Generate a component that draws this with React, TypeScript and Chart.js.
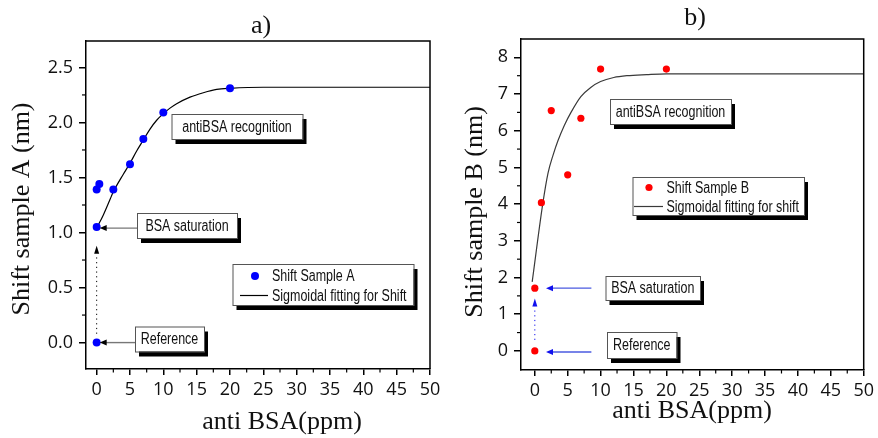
import React, { useEffect, useRef } from 'react';
import { Chart, registerables } from 'chart.js';

Chart.register(...registerables);

// ---------- data ----------
const X_TICKS = [0, 5, 10, 15, 20, 25, 30, 35, 40, 45, 50];
const X_MINOR = [2.5, 7.5, 12.5, 17.5, 22.5, 27.5, 32.5, 37.5, 42.5, 47.5];

const Y_TICKS_A = [0, 0.5, 1.0, 1.5, 2.0, 2.5];
const Y_MINOR_A = [0.25, 0.75, 1.25, 1.75, 2.25];
const Y_TICKS_B = [0, 1, 2, 3, 4, 5, 6, 7, 8];
const Y_MINOR_B = [0.5, 1.5, 2.5, 3.5, 4.5, 5.5, 6.5, 7.5];

// Sample A measured shifts
const X_A = [0, 0, 0, 0.4, 2.5, 5, 7, 10, 20];
const Y_A = [0, 1.05, 1.39, 1.44, 1.39, 1.62, 1.85, 2.09, 2.31];
// Sigmoidal fit A
const FIT_A_X = [0, 1, 2, 2.5, 4, 5, 6, 7, 8, 9, 10, 11, 12, 14, 16, 18, 20, 25, 50];
const FIT_A_Y = [1.04, 1.16, 1.3, 1.37, 1.53, 1.63, 1.74, 1.84, 1.94, 2.02, 2.08, 2.13, 2.17, 2.23, 2.27, 2.3, 2.31, 2.32, 2.32];

// Sample B measured shifts
const X_B = [0, 0, 1, 2.5, 5, 7, 10, 20];
const Y_B = [0, 1.71, 4.04, 6.55, 4.8, 6.34, 7.68, 7.68];
// Sigmoidal fit B
const FIT_B_X = [-0.4, 1.2, 2.0, 2.8, 3.5, 4.5, 5.5, 7, 8.5, 10, 12, 14, 17, 20, 30, 50];
const FIT_B_Y = [1.88, 4.0, 4.84, 5.35, 5.72, 6.15, 6.5, 6.93, 7.18, 7.34, 7.45, 7.5, 7.53, 7.55, 7.55, 7.55];

const LABELS_A = {
  title: 'a)',
  yTitle: 'Shift sample A (nm)',
  xTitle: 'anti BSA(ppm)',
  scatter: 'Shift Sample A',
  fit: 'Sigmoidal fitting for Shift',
  recog: 'antiBSA recognition',
  sat: 'BSA saturation',
  ref: 'Reference',
};
const LABELS_B = {
  title: 'b)',
  yTitle: 'Shift sample B (nm)',
  xTitle: 'anti BSA(ppm)',
  scatter: 'Shift Sample B',
  fit: 'Sigmoidal fitting for shift',
  recog: 'antiBSA recognition',
  sat: 'BSA saturation',
  ref: 'Reference',
};

// ---------- rendering ----------
const SERIF = "'Liberation Serif', 'Times New Roman', serif";
const TICKF = "'Open Sans', 'DejaVu Sans', sans-serif";
const SANS = "'Liberation Sans', Arial, sans-serif";
const NARROW_SCALE = 0.78;

type Box = { x: number; y: number; w: number; h: number };

type Spec = {
  left: number;
  width: number;
  xs: number[];
  ys: number[];
  fx: number[];
  fy: number[];
  yTicks: number[];
  yMinor: number[];
  yDec: number;
  xMin: number;
  xMax: number;
  yMin: number;
  yMax: number;
  padTop: number;
  padRight: number;
  yAxisW: number;
  xAxisH: number;
  color: string;
  radius: number;
  lineColor: string;
  labels: typeof LABELS_A;
  titlePos: [number, number];
  yTitlePos: [number, number];
  xTitlePos: [number, number];
  boxes: { recog: Box; sat: Box; ref: Box; legend: Box };
  legendRows: { dotX: number; dotY: number; textX: number; lineX0: number; lineX1: number; lineY: number };
  arrowColor: string;
  arrowLineColor: string;
  arrows: { x1: number; x2: number; y: number }[];
  vArrow: { x: number; y0: number; y1: number; tip: number };
};

function narrowText(ctx: CanvasRenderingContext2D, text: string, x: number, y: number, align: CanvasTextAlign) {
  ctx.save();
  ctx.translate(x, y);
  ctx.scale(NARROW_SCALE, 1);
  ctx.fillStyle = '#111';
  ctx.font = `16px ${SANS}`;
  ctx.textAlign = align;
  ctx.textBaseline = 'middle';
  ctx.fillText(text, 0, 0);
  ctx.restore();
}

function drawBox(ctx: CanvasRenderingContext2D, b: Box, text?: string) {
  ctx.save();
  ctx.fillStyle = '#000';
  ctx.fillRect(b.x + 4, b.y + 5, b.w, b.h);
  ctx.fillStyle = '#fff';
  ctx.fillRect(b.x, b.y, b.w, b.h);
  ctx.strokeStyle = '#555';
  ctx.lineWidth = 1;
  ctx.strokeRect(b.x + 0.5, b.y + 0.5, b.w, b.h);
  ctx.restore();
  if (text) narrowText(ctx, text, b.x + b.w / 2, b.y + b.h / 2 + 1, 'center');
}

function makePlugin(spec: Spec) {
  return {
    id: 'decor',
    afterDraw(chart: any) {
      const { ctx, chartArea: ca } = chart;
      const xs = chart.scales.x;
      const ys = chart.scales.y;
      ctx.save();
      // frame top/right
      ctx.strokeStyle = '#000';
      ctx.lineWidth = 1.5;
      ctx.beginPath();
      ctx.moveTo(ca.left, ca.top);
      ctx.lineTo(ca.right, ca.top);
      ctx.lineTo(ca.right, ca.bottom);
      ctx.stroke();
      // minor ticks
      ctx.lineWidth = 1.2;
      for (const v of X_MINOR) {
        const p = xs.getPixelForValue(v);
        ctx.beginPath();
        ctx.moveTo(p, ca.bottom);
        ctx.lineTo(p, ca.bottom + 3.5);
        ctx.stroke();
      }
      for (const v of spec.yMinor) {
        const p = ys.getPixelForValue(v);
        ctx.beginPath();
        ctx.moveTo(ca.left - 4, p);
        ctx.lineTo(ca.left, p);
        ctx.stroke();
      }

      // titles
      ctx.fillStyle = '#111';
      ctx.font = `26px ${SERIF}`;
      ctx.textAlign = 'center';
      ctx.textBaseline = 'middle';
      ctx.fillText(spec.labels.title, spec.titlePos[0], spec.titlePos[1]);
      ctx.textBaseline = 'alphabetic';
      ctx.fillText(spec.labels.xTitle, spec.xTitlePos[0], spec.xTitlePos[1]);
      ctx.save();
      ctx.translate(spec.yTitlePos[0], spec.yTitlePos[1]);
      ctx.rotate(-Math.PI / 2);
      ctx.textBaseline = 'middle';
      ctx.fillText(spec.labels.yTitle, 0, 0);
      ctx.restore();

      // arrows
      for (const a of spec.arrows) {
        const px1 = xs.getPixelForValue(a.x1);
        const px2 = xs.getPixelForValue(a.x2);
        const py = ys.getPixelForValue(a.y);
        ctx.strokeStyle = spec.arrowLineColor;
        ctx.lineWidth = 1.4;
        ctx.beginPath();
        ctx.moveTo(px1, py);
        ctx.lineTo(px2 + 5, py);
        ctx.stroke();
        ctx.fillStyle = spec.arrowColor;
        ctx.beginPath();
        ctx.moveTo(px2, py);
        ctx.lineTo(px2 + 7, py - 3);
        ctx.lineTo(px2 + 7, py + 3);
        ctx.closePath();
        ctx.fill();
      }
      // vertical dotted arrow
      {
        const va = spec.vArrow;
        const px = xs.getPixelForValue(va.x);
        const p0 = ys.getPixelForValue(va.y0);
        const p1 = ys.getPixelForValue(va.y1);
        const pt = ys.getPixelForValue(va.tip);
        ctx.strokeStyle = spec.arrowColor;
        ctx.lineWidth = 1;
        ctx.setLineDash([1.2, 3.5]);
        ctx.beginPath();
        ctx.moveTo(px, p0);
        ctx.lineTo(px, p1);
        ctx.stroke();
        ctx.setLineDash([]);
        ctx.fillStyle = spec.arrowColor;
        ctx.beginPath();
        ctx.moveTo(px, pt);
        ctx.lineTo(px - 2.5, pt + 8);
        ctx.lineTo(px + 2.5, pt + 8);
        ctx.closePath();
        ctx.fill();
      }

      // boxes
      drawBox(ctx, spec.boxes.recog, spec.labels.recog);
      drawBox(ctx, spec.boxes.sat, spec.labels.sat);
      drawBox(ctx, spec.boxes.ref, spec.labels.ref);
      drawBox(ctx, spec.boxes.legend);
      const lr = spec.legendRows;
      ctx.fillStyle = spec.color;
      ctx.beginPath();
      ctx.arc(lr.dotX, lr.dotY, spec.radius, 0, Math.PI * 2);
      ctx.fill();
      ctx.strokeStyle = spec.lineColor;
      ctx.lineWidth = 1.2;
      ctx.beginPath();
      ctx.moveTo(lr.lineX0, lr.lineY);
      ctx.lineTo(lr.lineX1, lr.lineY);
      ctx.stroke();
      narrowText(ctx, spec.labels.scatter, lr.textX, lr.dotY + 1, 'left');
      narrowText(ctx, spec.labels.fit, lr.textX, lr.lineY + 1, 'left');
      ctx.restore();
    },
  };
}

function Panel({ spec }: { spec: Spec }) {
  const ref = useRef<HTMLCanvasElement>(null);
  useEffect(() => {
    if (!ref.current) return;
    const chart = new Chart(ref.current, {
      type: 'scatter',
      data: {
        datasets: [
          {
            type: 'scatter',
            data: spec.xs.map((x, i) => ({ x, y: spec.ys[i] })),
            pointRadius: spec.radius,
            pointBackgroundColor: spec.color,
            pointBorderWidth: 0,
            backgroundColor: spec.color,
            borderColor: spec.color,
            showLine: false,
          } as any,
          {
            type: 'line',
            data: spec.fx.map((x, i) => ({ x, y: spec.fy[i] })),
            borderColor: spec.lineColor,
            borderWidth: 1.2,
            pointRadius: 0,
            cubicInterpolationMode: 'monotone',
            fill: false,
          } as any,
        ],
      },
      options: {
        responsive: false,
        animation: false,
        events: [],
        layout: { padding: { top: spec.padTop, right: spec.padRight, left: 0, bottom: 0 } },
        plugins: { legend: { display: false }, tooltip: { enabled: false }, title: { display: false } },
        scales: {
          x: {
            type: 'linear',
            min: spec.xMin,
            max: spec.xMax,
            afterBuildTicks: (s: any) => {
              s.ticks = X_TICKS.map((v) => ({ value: v }));
            },
            afterFit: (s: any) => {
              s.height = spec.xAxisH;
            },
            ticks: {
              autoSkip: false,
              maxRotation: 0,
              padding: 4,
              color: '#111',
              font: { family: TICKF, size: 18 },
              callback: (v: any) => String(v),
            },
            grid: { display: true, drawOnChartArea: false, drawTicks: true, tickLength: 6, color: '#000', lineWidth: 1.5 },
            border: { display: true, color: '#000', width: 1.5 },
          },
          y: {
            type: 'linear',
            min: spec.yMin,
            max: spec.yMax,
            afterBuildTicks: (s: any) => {
              s.ticks = spec.yTicks.map((v) => ({ value: v }));
            },
            afterFit: (s: any) => {
              s.width = spec.yAxisW;
            },
            ticks: {
              autoSkip: false,
              padding: 6,
              color: '#111',
              font: { family: TICKF, size: 18 },
              callback: (v: any) => Number(v).toFixed(spec.yDec),
            },
            grid: { display: true, drawOnChartArea: false, drawTicks: true, tickLength: 7, color: '#000', lineWidth: 1.5 },
            border: { display: true, color: '#000', width: 1.5 },
          },
        },
      },
      plugins: [makePlugin(spec)],
    });
    return () => chart.destroy();
  }, [spec]);
  return (
    <canvas
      ref={ref}
      width={spec.width}
      height={438}
      style={{ position: 'absolute', left: spec.left, top: 0, width: spec.width, height: 438 }}
    />
  );
}

const SPEC_A: Spec = {
  left: 0,
  width: 445,
  xs: X_A,
  ys: Y_A,
  fx: FIT_A_X,
  fy: FIT_A_Y,
  yTicks: Y_TICKS_A,
  yMinor: Y_MINOR_A,
  yDec: 1,
  xMin: -1.6,
  xMax: 50,
  yMin: -0.24,
  yMax: 2.74,
  padTop: 41,
  padRight: 15,
  yAxisW: 86,
  xAxisH: 69,
  color: '#0000ff',
  radius: 4,
  lineColor: '#000',
  labels: LABELS_A,
  titlePos: [261, 26],
  yTitlePos: [22, 209],
  xTitlePos: [282, 429],
  boxes: {
    recog: { x: 171.5, y: 114, w: 131, h: 25 },
    sat: { x: 137, y: 213, w: 100, h: 25 },
    ref: { x: 135, y: 326.5, w: 69, h: 25 },
    legend: { x: 232.5, y: 264, w: 181, h: 41 },
  },
  legendRows: { dotX: 255, dotY: 276, textX: 272, lineX0: 240, lineX1: 268, lineY: 295.5 },
  arrowColor: '#000',
  arrowLineColor: '#777',
  arrows: [
    { x1: 6.1, x2: 0.45, y: 1.04 },
    { x1: 5.75, x2: 0.45, y: 0 },
  ],
  vArrow: { x: 0, y0: 0.08, y1: 0.8, tip: 0.88 },
};

const SPEC_B: Spec = {
  left: 438,
  width: 440,
  xs: X_B,
  ys: Y_B,
  fx: FIT_B_X,
  fy: FIT_B_Y,
  yTicks: Y_TICKS_B,
  yMinor: Y_MINOR_B,
  yDec: 0,
  xMin: -2.1,
  xMax: 50,
  yMin: -0.52,
  yMax: 8.5,
  padTop: 39,
  padRight: 13,
  yAxisW: 83,
  xAxisH: 68,
  color: '#ff0000',
  radius: 3.6,
  lineColor: '#3a3a3a',
  labels: LABELS_B,
  titlePos: [257, 18],
  yTitlePos: [37, 212],
  xTitlePos: [254, 418],
  boxes: {
    recog: { x: 172, y: 99, w: 121, h: 25 },
    sat: { x: 167.5, y: 276, w: 94.5, h: 24 },
    ref: { x: 169, y: 332, w: 69.5, h: 26 },
    legend: { x: 194.5, y: 177, w: 171.5, h: 38 },
  },
  legendRows: { dotX: 211, dotY: 187.5, textX: 228.5, lineX0: 196, lineX1: 225, lineY: 206.5 },
  arrowColor: '#1010ee',
  arrowLineColor: '#4a5ae0',
  arrows: [
    { x1: 8.6, x2: 1.7, y: 1.71 },
    { x1: 8.6, x2: 1.7, y: -0.03 },
  ],
  vArrow: { x: 0, y0: 0.3, y1: 1.2, tip: 1.43 },
};

export default function App() {
  return (
    <div style={{ position: 'absolute', left: 0, top: 0, width: 878, height: 438, background: '#fff' }}>
      <Panel spec={SPEC_A} />
      <Panel spec={SPEC_B} />
    </div>
  );
}
